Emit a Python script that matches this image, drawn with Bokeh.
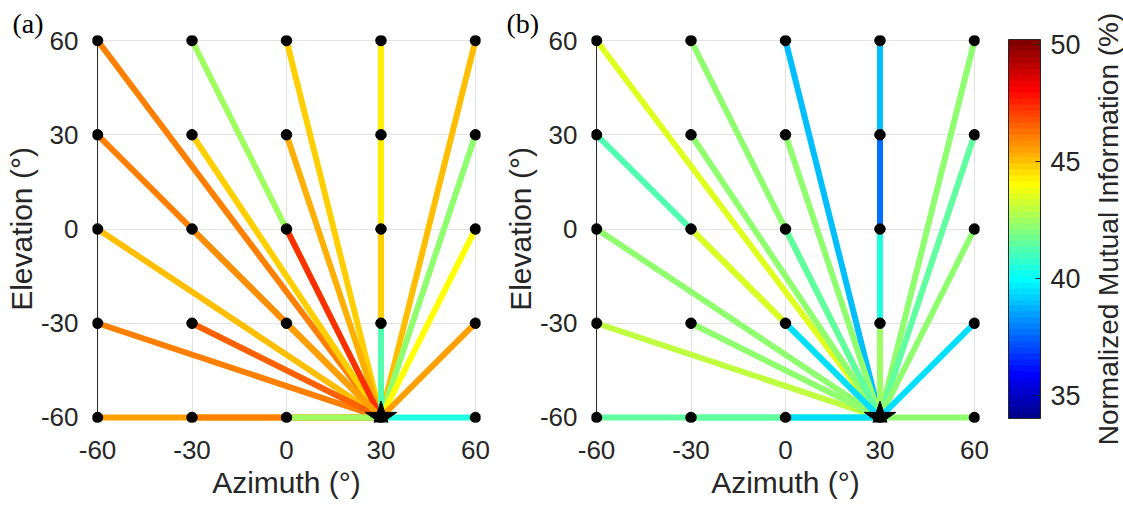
import numpy as np
from bokeh.plotting import figure
from bokeh.models import (ColumnDataSource, LinearColorMapper, ColorBar, FixedTicker, Range1d)
from bokeh.layouts import row
from bokeh.transform import transform
from bokeh.embed import file_html
from bokeh.resources import INLINE

# ---------------- data ----------------
azimuths = [-60, -30, 0, 30, 60]          # columns
elevations = [60, 30, 0, -30, -60]        # rows (top to bottom)
target_az = 30
target_el = -60

# Normalized mutual information (%) for each source position, rows = elevations
mi_a = [
    [46.15, 42.6, 44.8, 44.15, 45.0],
    [46.1, 44.8, 45.35, 44.2, 42.1],
    [45.1, 45.8, 47.2, 44.7, 44.0],
    [45.95, 46.6, 45.5, 41.1, 45.6],
    [45.6, 46.1, 42.6, None, 40.55],
]
mi_b = [
    [43.55, 42.1, 39.05, 39.05, 42.1],
    [41.1, 42.1, 42.1, 37.6, 41.5],
    [42.1, 43.55, 41.5, 40.55, 42.1],
    [43.1, 42.1, 39.5, 42.5, 39.5],
    [41.5, 41.5, 39.5, None, 42.1],
]
cbar_low, cbar_high = 34.0, 50.2
cbar_ticks = [35, 40, 45, 50]
panel_tags = ["(a)", "(b)"]
xlabel = "Azimuth (°)"
ylabel = "Elevation (°)"
cbar_title = "Normalized Mutual Information (%)"

TXT = "#262626"
FONT = "Liberation Sans"


def jet(n=64):
    m = int(np.ceil(n / 4))
    u = np.concatenate([np.arange(1, m + 1) / m, np.ones(m - 1), np.arange(m, 0, -1) / m])
    g = int(np.ceil(m / 2)) - (1 if n % 4 == 1 else 0) + np.arange(1, len(u) + 1)
    r = g + m
    b = g - m
    J = np.zeros((n, 3))
    k = r <= n
    J[r[k] - 1, 0] = u[k]
    k = (g >= 1) & (g <= n)
    J[g[k] - 1, 1] = u[k]
    k = b >= 1
    J[b[k] - 1, 2] = u[k]
    return ["#%02x%02x%02x" % tuple(int(round(c * 255)) for c in rr) for rr in J]


palette = jet(64)
mapper = LinearColorMapper(palette=palette, low=cbar_low, high=cbar_high)

PAD = 61.6
FW, FH = 388, 387


def make_panel(mi, tag, left_w, right_w, tag_offset):
    x0, y0, x1, y1, vals, dist = [], [], [], [], [], []
    for i, el in enumerate(elevations):
        for j, az in enumerate(azimuths):
            v = mi[i][j]
            if v is None:
                continue
            x0.append(az); y0.append(el)
            x1.append(target_az); y1.append(target_el)
            vals.append(v)
            dist.append(np.hypot(az - target_az, el - target_el))
    order = np.argsort(-np.array(dist), kind="stable")
    src = ColumnDataSource(dict(
        x0=[x0[k] for k in order], y0=[y0[k] for k in order],
        x1=[x1[k] for k in order], y1=[y1[k] for k in order],
        v=[vals[k] for k in order]))

    p = figure(frame_width=FW, frame_height=FH,
               x_range=Range1d(-PAD, PAD), y_range=Range1d(-PAD, PAD),
               output_backend="svg", toolbar_location=None,
               min_border_left=left_w, min_border_right=right_w,
               min_border_top=35, min_border_bottom=84)
    p.outline_line_color = None
    p.background_fill_color = "white"
    p.border_fill_color = "white"

    p.title.text = tag
    p.title.text_font = "Liberation Serif"
    p.title.text_font_size = "28px"
    p.title.text_font_style = "normal"
    p.title.text_color = "black"
    p.title.align = "left"
    p.title.offset = tag_offset
    p.title.standoff = -6

    for ax in (p.xaxis[0], p.yaxis[0]):
        ax.axis_line_color = None
        ax.major_tick_line_color = None
        ax.minor_tick_line_color = None
        ax.major_tick_out = 0
        ax.major_tick_in = 0
        ax.minor_tick_out = 0
        ax.minor_tick_in = 0
        ax.major_label_text_font = FONT
        ax.major_label_text_font_size = "26px"
        ax.major_label_text_color = TXT
        ax.axis_label_text_font = FONT
        ax.axis_label_text_font_size = "30px"
        ax.axis_label_text_font_style = "normal"
        ax.axis_label_text_color = TXT
    p.xaxis.ticker = FixedTicker(ticks=azimuths)
    p.yaxis.ticker = FixedTicker(ticks=sorted(elevations))
    p.xaxis.major_label_overrides = {t: str(t) for t in azimuths}
    p.yaxis.major_label_overrides = {t: str(t) for t in elevations}
    p.xaxis.axis_label = xlabel
    p.yaxis.axis_label = ylabel
    p.xaxis.major_label_standoff = 18
    p.yaxis.major_label_standoff = 14
    p.xaxis.axis_label_standoff = 4
    p.yaxis.axis_label_standoff = 0
    p.grid.grid_line_color = "#e3e3e3"
    p.grid.grid_line_width = 1

    # left axis line at the first azimuth, spanning the elevation ticks
    p.segment(x0=[azimuths[0]], y0=[min(elevations)], x1=[azimuths[0]], y1=[max(elevations)],
              line_color="#262626", line_width=1)

    p.segment(x0="x0", y0="y0", x1="x1", y1="y1", source=src,
              line_color=transform("v", mapper), line_width=6, line_cap="butt")

    gx = [az for el in elevations for az in azimuths]
    gy = [el for el in elevations for az in azimuths]
    p.scatter(gx, gy, size=10.5, color="black")
    p.scatter([target_az], [target_el], marker="star", size=33, color="black")
    return p


p1 = make_panel(mi_a, panel_tags[0], 92, 20, -80)
p2 = make_panel(mi_b, panel_tags[1], 90, 107, -85)

cb = ColorBar(color_mapper=mapper, ticker=FixedTicker(ticks=cbar_ticks),
              width=32, height=379, location=(29, 4), padding=0, margin=0,
              bar_line_color="#262626", bar_line_width=1,
              major_tick_in=5, major_tick_out=0, major_tick_line_color="#262626",
              minor_tick_line_color=None, label_standoff=10,
              major_label_text_font=FONT, major_label_text_font_size="27px",
              major_label_text_color=TXT, border_line_color=None,
              background_fill_color=None)
p2.add_layout(cb, "right")

# narrow strip whose (left) axis label carries the colour-bar title
p3 = figure(frame_width=1, frame_height=FH, x_range=Range1d(0, 1), y_range=Range1d(0, 1),
            output_backend="svg", toolbar_location=None, title=None,
            min_border_left=37, min_border_right=0, min_border_top=35, min_border_bottom=84,
            x_axis_location=None, y_axis_location="left")
p3.outline_line_color = None
p3.grid.visible = False
p3.yaxis.ticker = FixedTicker(ticks=[])
p3.yaxis.major_label_text_font_size = "0px"
p3.yaxis.major_tick_out = 0
p3.yaxis.major_tick_in = 0
p3.yaxis.minor_tick_out = 0
p3.yaxis.minor_tick_in = 0
p3.yaxis.major_label_standoff = 0
p3.yaxis.axis_line_color = None
p3.yaxis.axis_label = cbar_title
p3.yaxis.axis_label_standoff = 0
p3.yaxis.axis_label_text_font = FONT
p3.yaxis.axis_label_text_font_size = "28px"
p3.yaxis.axis_label_text_font_style = "normal"
p3.yaxis.axis_label_text_color = TXT

layout = row(p1, p2, p3)
open("out.html", "w").write(file_html(layout, INLINE))
